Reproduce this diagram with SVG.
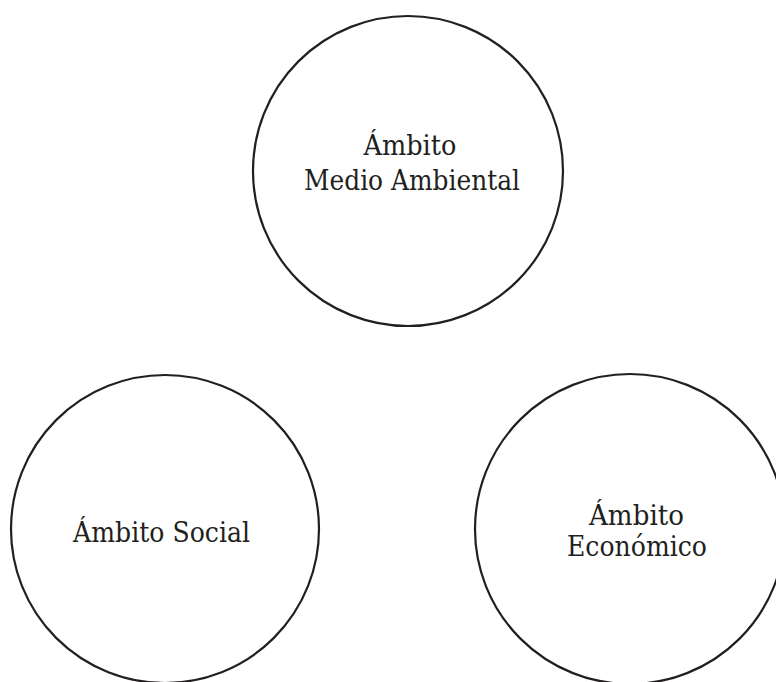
<svg xmlns="http://www.w3.org/2000/svg" width="776" height="682" viewBox="0 0 776 682">
<style>
.c{fill:#fff;stroke:#231f20;stroke-width:2.2}
.t{font-family:"DejaVu Serif","Liberation Serif",serif;font-size:27px;fill:#231f20;text-anchor:middle}
</style>
<rect width="776" height="682" fill="#fff"/>
<g id="connectors"></g>
<g id="node-medio">
<circle class="c" cx="408" cy="171" r="155"/>
<text class="t" x="410" y="155" textLength="93" lengthAdjust="spacingAndGlyphs">Ámbito</text>
<text class="t" x="412" y="190" textLength="216" lengthAdjust="spacingAndGlyphs">Medio Ambiental</text>
</g>
<g id="node-social">
<circle class="c" cx="165" cy="529" r="154"/>
<text class="t" x="161.5" y="542" textLength="177" lengthAdjust="spacingAndGlyphs">Ámbito Social</text>
</g>
<g id="node-economico">
<circle class="c" cx="630" cy="529" r="155"/>
<text class="t" x="636.5" y="525" textLength="95" lengthAdjust="spacingAndGlyphs">Ámbito</text>
<text class="t" x="637" y="556" textLength="140" lengthAdjust="spacingAndGlyphs">Económico</text>
</g>
</svg>
